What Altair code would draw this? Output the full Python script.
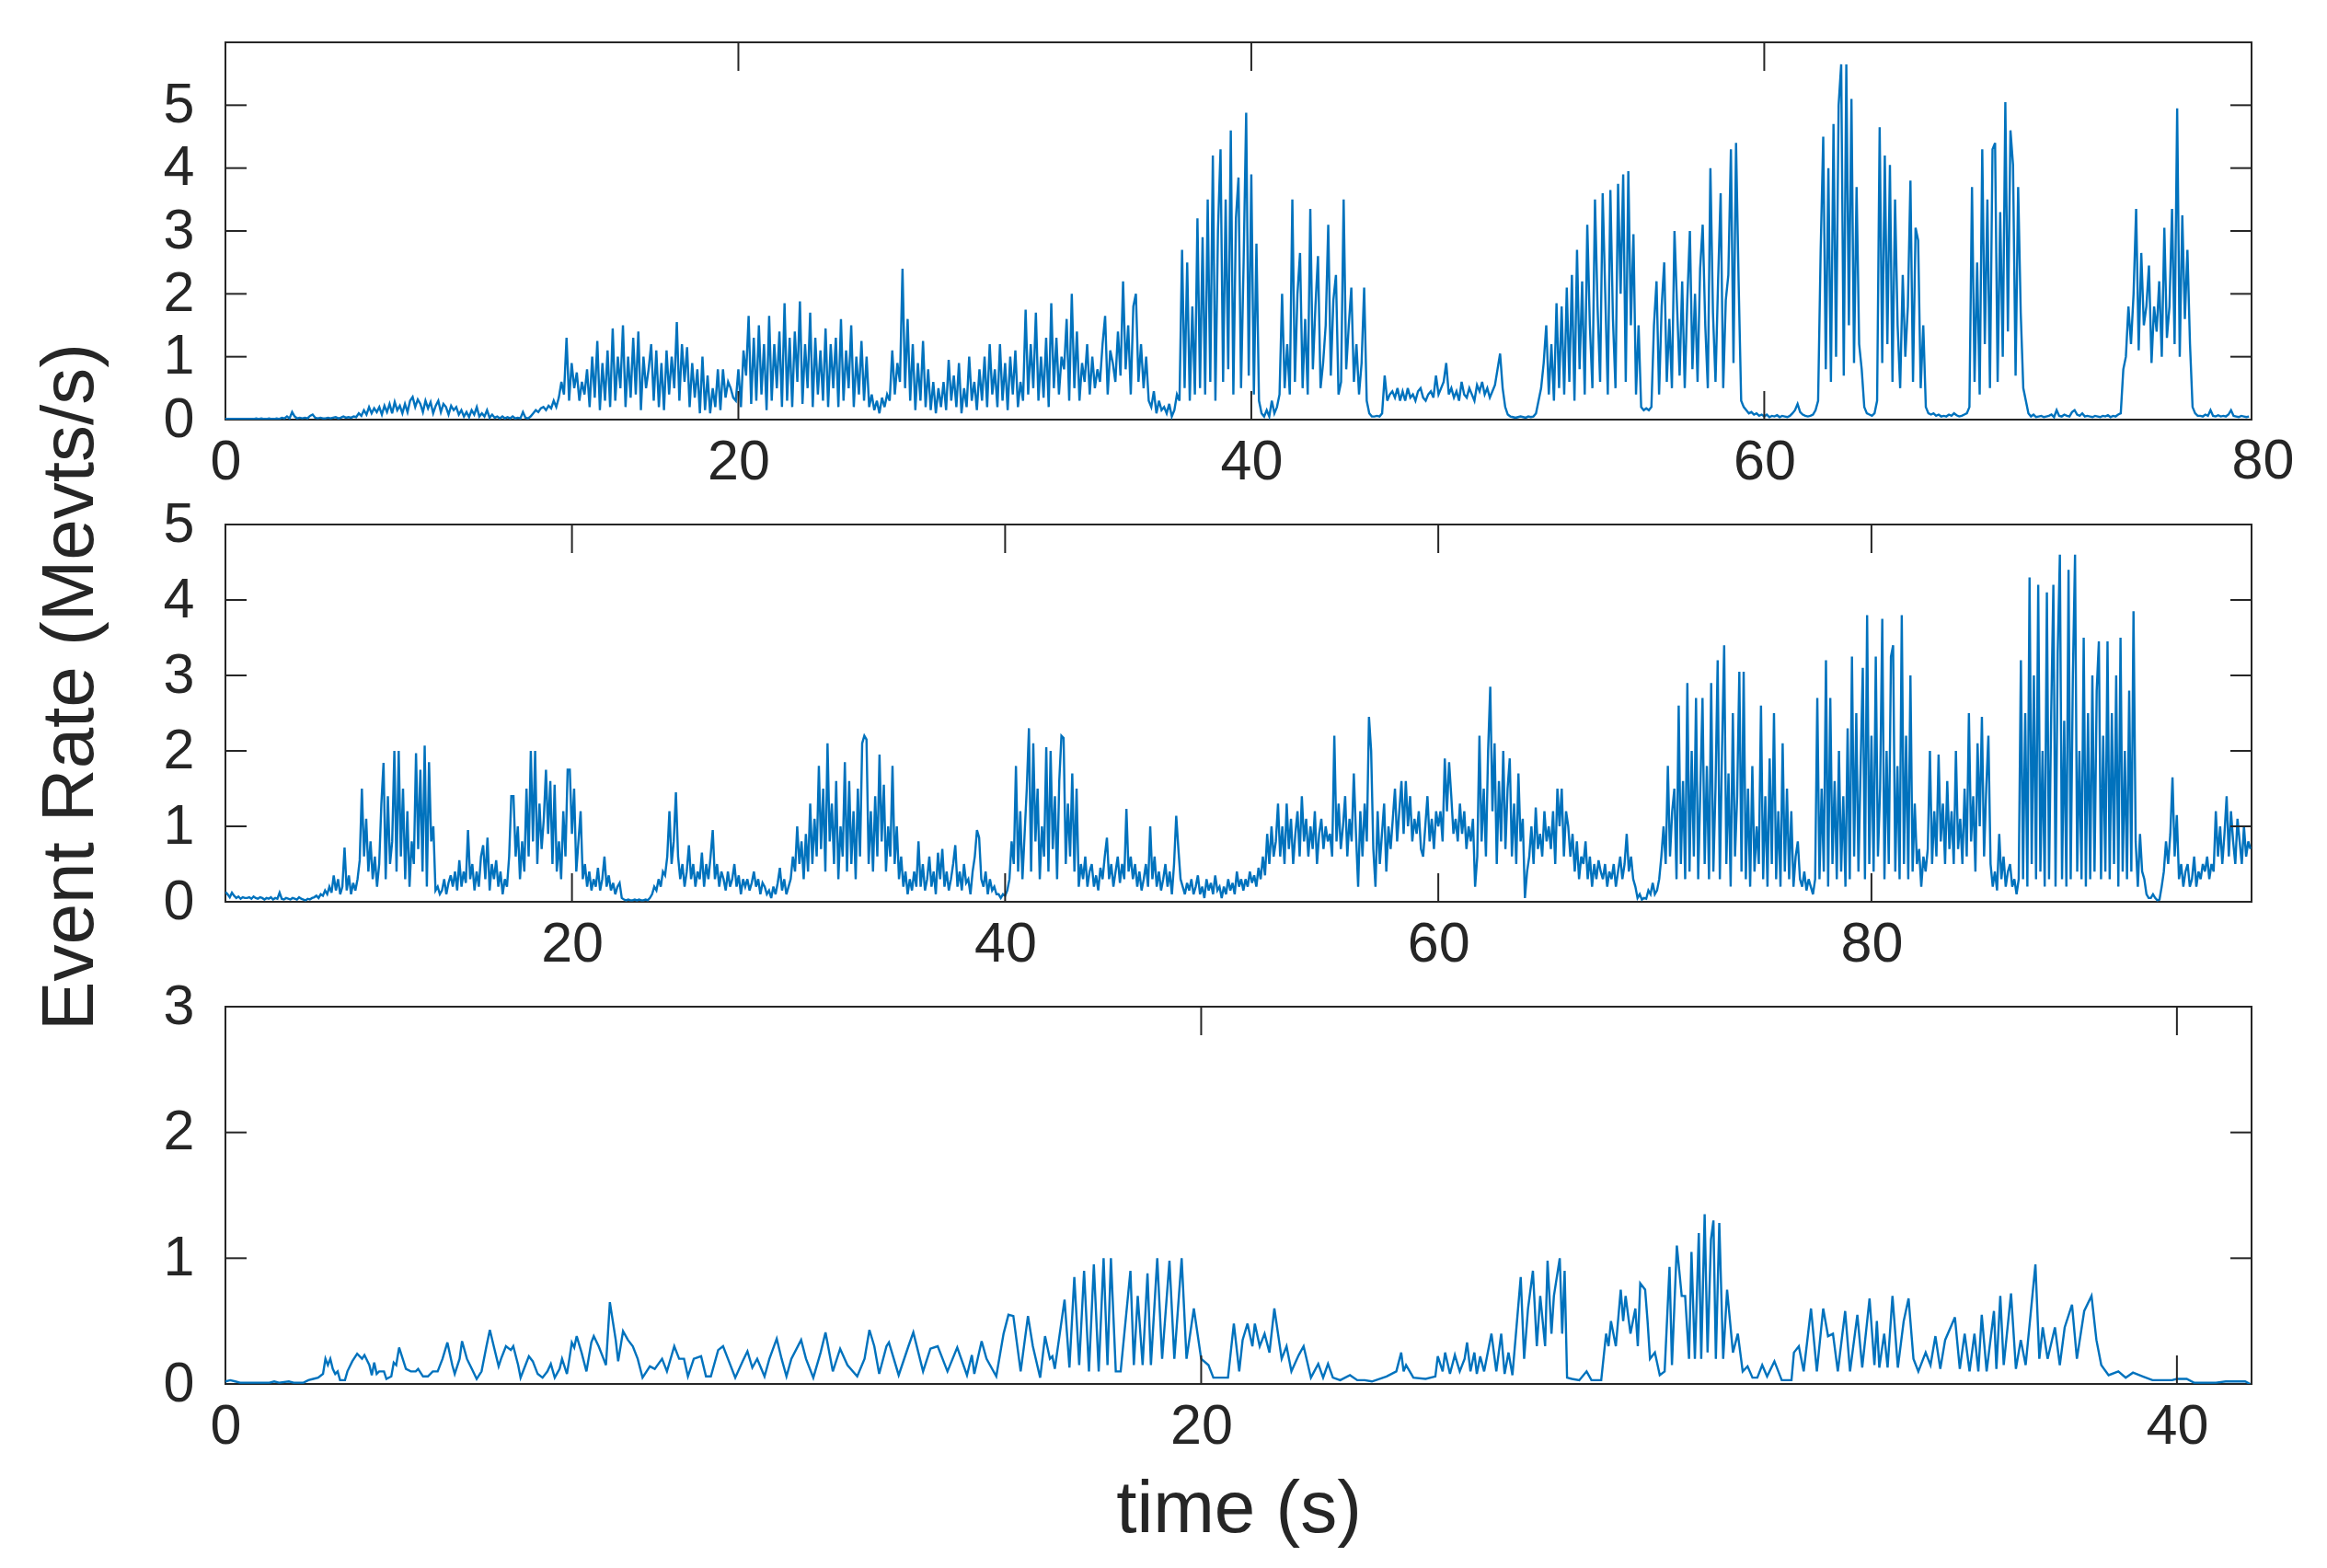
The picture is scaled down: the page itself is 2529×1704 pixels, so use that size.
import altair as alt
import pandas as pd

BLUE = "#0072BD"
AX = "#262626"
FONT = "Liberation Sans"

# ---------------- panel 1 : samples every 0.1 s from t = 0 ----------------
P1_START, P1_STEP = 0.0, 0.1
p1_vals = [
    .01,.01,.01,.01,.01,.01,.01,.01,.01,.01,
    .01,.01,.02,.01,.02,.01,.01,.02,.01,.01,
    .02,.01,.03,.02,.05,.02,.12,.05,.02,.03,
    .02,.03,.02,.06,.08,.03,.02,.03,.02,.02,
    .03,.02,.03,.04,.02,.03,.05,.03,.04,.03,
    .05,.04,.1,.06,.15,.08,.2,.1,.18,.12,
    .2,.08,.22,.12,.25,.1,.28,.15,.22,.1,
    .25,.12,.3,.36,.2,.32,.25,.12,.3,.18,
    .28,.1,.22,.3,.12,.25,.2,.08,.22,.15,
    .2,.08,.15,.05,.12,.04,.15,.08,.2,.05,
    .1,.05,.15,.03,.08,.03,.05,.02,.05,.02,
    .04,.02,.05,.02,.03,.02,.12,.03,.02,.05,
    .1,.15,.12,.18,.2,.15,.22,.18,.3,.2,
    .35,.6,.4,1.3,.3,.9,.5,.75,.3,.6,
    .4,.8,.2,1.0,.35,1.25,.15,.9,.3,1.1,
    .2,1.45,.3,1.0,.5,1.5,.2,1.0,.35,1.3,
    .4,1.4,.15,1.0,.5,.8,1.2,.3,1.1,.2,
    .9,.15,1.1,.4,1.0,.5,1.55,.3,1.2,.6,
    1.15,.2,.9,.35,.8,.1,1.0,.15,.7,.1,
    .5,.2,.8,.15,.8,.35,.6,.5,.35,.3,
    .8,.2,1.1,.7,1.65,.25,1.3,.3,1.5,.4,
    1.2,.15,1.65,.3,1.2,.5,1.4,.2,1.85,.3,
    1.3,.2,1.4,.6,1.88,.25,1.2,.5,1.7,.2,
    1.3,.4,1.1,.3,1.45,.2,1.2,.5,1.3,.2,
    1.6,.3,1.1,.5,1.5,.2,1.0,.4,1.25,.3,
    1.0,.2,.4,.15,.3,.1,.35,.2,.4,.3,
    1.1,.4,.9,.6,2.4,.5,1.6,.3,1.2,.15,
    .9,.3,1.25,.2,.8,.15,.6,.1,.5,.2,
    .6,.15,.95,.3,.7,.2,.9,.1,.5,.2,
    1.0,.3,.6,.15,.8,.3,1.0,.2,1.2,.4,
    .8,.2,1.2,.3,.9,.15,1.0,.4,1.1,.2,
    .6,.3,1.75,.4,1.2,.5,1.7,.3,1.0,.35,
    1.3,.2,1.85,.5,1.3,.4,1.0,.8,1.6,.3,
    2.0,.5,1.4,.3,.9,.6,1.2,.4,1.0,.5,
    .8,.6,1.2,1.65,.4,1.1,.9,.6,1.4,.7,
    2.2,.8,1.5,.4,1.8,2.0,.6,1.2,.5,1.0,
    .3,.2,.45,.1,.3,.15,.2,.1,.25,.05,
    .15,.4,.3,2.7,.5,2.5,.3,1.8,.4,3.2,
    .5,2.9,.4,3.5,.6,4.2,.3,3.0,4.3,.6,
    3.5,.8,4.6,.4,3.2,3.85,.5,2.5,4.88,.7,
    3.9,.4,2.8,.3,.1,.05,.15,.05,.3,.1,
    .2,.4,2.0,.5,1.2,.4,3.5,.6,2.0,2.65,
    .5,1.6,.4,3.35,.8,1.8,2.6,.5,.9,1.5,
    3.1,.7,1.9,2.3,.4,.6,3.5,.8,1.5,2.1,
    .6,1.2,.4,.9,2.1,.3,.1,.05,.05,.06,
    .05,.1,.7,.3,.4,.45,.35,.5,.3,.45,
    .3,.5,.35,.4,.3,.45,.5,.35,.3,.4,
    .45,.35,.7,.4,.5,.6,.9,.4,.5,.35,
    .45,.3,.6,.4,.35,.5,.4,.3,.55,.45,
    .6,.4,.5,.35,.45,.55,.8,1.05,.5,.2,
    .08,.05,.04,.03,.04,.05,.04,.03,.05,.04,
    .05,.1,.3,.5,.9,1.5,.4,1.2,.3,1.85,
    .5,1.8,.4,2.1,.6,2.3,.3,2.7,.8,2.2,
    .4,3.1,1.5,.5,3.5,1.8,.6,3.6,2.0,.4,
    3.65,1.6,.5,3.75,2.0,3.9,.6,3.95,1.5,2.95,
    .4,1.5,.2,.15,.18,.15,.2,1.5,2.2,.4,
    1.8,2.5,.6,1.6,.5,3.0,1.8,.7,2.2,.5,
    1.9,3.0,.8,2.0,.6,2.4,3.1,1.5,.5,4.0,
    1.7,.6,2.2,3.6,.5,1.9,2.3,4.3,.9,4.4,
    2.2,.3,.2,.15,.1,.12,.08,.1,.06,.08,
    .05,.08,.04,.06,.05,.07,.04,.06,.05,.04,
    .06,.1,.15,.25,.12,.08,.06,.05,.06,.08,
    .15,.3,2.7,4.5,.8,4.0,.6,4.7,1.0,5.0,
    5.65,.7,5.65,1.5,5.1,.9,3.7,1.2,.8,.2,
    .1,.08,.06,.1,.3,4.65,.9,4.2,1.2,4.05,
    .6,3.5,1.5,.5,2.3,1.0,1.8,3.8,.6,3.05,
    2.85,.5,1.5,.2,.1,.08,.1,.06,.08,.05,
    .06,.05,.08,.06,.1,.07,.05,.06,.08,.1,
    .2,3.7,.6,2.5,.4,4.3,1.2,3.5,.5,4.3,
    4.4,.6,3.3,1.0,5.05,1.4,4.6,4.05,.7,3.7,
    1.7,.5,.3,.1,.05,.08,.04,.05,.06,.04,
    .05,.06,.08,.04,.15,.06,.05,.08,.06,.05,
    .12,.15,.08,.06,.1,.05,.06,.05,.04,.06,
    .05,.04,.06,.05,.07,.04,.06,.05,.08,.1,
    .8,1.0,1.8,1.2,2.0,3.35,1.1,2.65,1.5,1.8,
    2.45,.9,1.8,1.4,2.2,1.0,3.05,1.3,1.8,3.35,
    1.2,4.95,1.0,3.25,1.6,2.7,1.2,.2,.1,.06,
    .06,.05,.08,.06,.15,.06,.05,.07,.05,.06,
    .05,.08,.15,.06,.05,.04,.06,.05,.04,.05,
]

# ---------------- panel 2 : samples every 0.1 s from t = 4 ----------------
P2_START, P2_STEP = 4.0, 0.1
p2_vals = [
    .13,.1,.06,.12,.08,.05,.07,.04,.06,.05,
    .05,.06,.04,.07,.05,.04,.06,.05,.03,.05,
    .04,.06,.03,.05,.04,.12,.04,.03,.05,.04,
    .03,.05,.04,.03,.06,.04,.03,.02,.04,.03,
    .05,.06,.08,.05,.1,.08,.15,.1,.2,.12,
    .35,.15,.3,.1,.2,.72,.15,.35,.1,.25,
    .15,.3,.55,1.5,.6,1.1,.4,.8,.3,.6,
    .2,.5,1.3,1.84,.3,1.4,.5,.8,2.0,.4,
    2.0,.6,1.5,.3,1.2,.2,.8,.5,1.97,.7,
    1.75,.4,2.07,.2,1.85,.8,1.0,.15,.2,.1,
    .15,.3,.1,.25,.35,.2,.4,.15,.55,.2,
    .4,.25,.95,.3,.5,.15,.4,.2,.6,.75,
    .3,.85,.15,.5,.3,.55,.2,.4,.1,.3,
    .2,.6,1.4,1.4,.6,1.0,.3,.8,.4,1.5,
    .6,2.0,.8,2.0,.5,1.3,.7,1.1,1.75,.9,
    1.6,.5,1.55,.4,.8,.3,1.2,.6,1.75,1.75,
    .9,1.5,.4,.8,1.2,.3,.5,.2,.4,.15,
    .3,.2,.45,.15,.3,.6,.2,.35,.15,.25,
    .1,.2,.25,.05,.03,.02,.03,.02,.02,.03,
    .02,.03,.02,.02,.03,.02,.05,.1,.2,.15,
    .3,.2,.4,.35,.6,1.2,.5,.8,1.45,.6,
    .3,.5,.2,.4,.75,.3,.5,.2,.4,.3,
    .65,.2,.5,.3,.6,.95,.3,.5,.2,.4,
    .3,.15,.4,.2,.3,.5,.2,.35,.1,.3,
    .2,.3,.15,.25,.4,.2,.3,.1,.25,.2,
    .1,.15,.05,.2,.1,.25,.45,.15,.3,.1,
    .2,.3,.6,.4,1.0,.5,.8,.3,.9,.4,
    1.3,.5,1.1,.6,1.8,.7,1.5,.4,2.1,.8,
    1.3,.5,1.6,.3,1.0,.6,1.85,.4,1.6,.5,
    1.2,.3,1.5,.6,2.1,2.2,2.15,.5,1.2,.4,
    1.4,.6,1.95,.8,1.55,.4,1.0,.6,1.8,.5,
    1.0,.3,.6,.2,.4,.1,.3,.15,.4,.2,
    .8,.2,.5,.15,.3,.6,.2,.4,.1,.65,
    .3,.7,.2,.4,.15,.3,.5,.75,.2,.4,
    .15,.5,.25,.3,.1,.4,.6,.95,.85,.3,
    .2,.4,.1,.3,.15,.2,.1,.1,.05,.1,
    .08,.15,.3,.8,.5,1.8,.4,1.2,.3,.9,
    1.5,2.3,.4,2.1,.8,1.5,.3,1.0,.6,2.05,
    .4,2.0,.7,1.4,.3,1.6,2.2,2.17,.5,1.3,
    .6,1.7,.4,1.5,.2,.5,.3,.6,.2,.4,
    .5,.2,.35,.15,.45,.3,.6,.85,.3,.5,
    .2,.4,.6,.25,.5,.3,1.23,.4,.6,.3,
    .5,.2,.4,.15,.3,.5,.2,1.0,.3,.6,
    .2,.4,.15,.3,.5,.2,.4,.1,.5,1.14,
    .7,.3,.2,.1,.25,.15,.3,.1,.2,.35,
    .1,.2,.05,.3,.15,.25,.1,.35,.15,.2,
    .05,.2,.1,.3,.15,.25,.1,.4,.2,.3,
    .15,.3,.2,.4,.25,.35,.2,.45,.3,.6,
    .35,.9,.5,1.0,.6,.8,1.3,.6,1.0,.5,
    1.3,.7,1.1,.5,.9,1.2,.6,1.4,.8,1.1,
    .6,1.0,.7,1.2,.5,.9,1.1,.7,1.0,.8,
    .9,.6,2.2,.8,1.3,.7,1.0,1.4,.6,1.1,
    .8,1.7,.9,.2,1.2,.6,1.3,.8,2.45,2.0,
    .7,.2,1.2,.5,.9,1.3,.4,1.0,.7,1.1,
    1.5,.8,1.2,1.6,.9,1.6,1.0,1.4,.8,1.1,
    .9,1.2,.7,.6,1.0,1.4,.8,1.1,.7,1.2,
    1.0,1.2,.8,1.9,1.2,1.85,1.4,.9,1.1,.8,
    1.3,.9,1.2,.7,1.0,.8,1.1,.2,.6,2.2,
    .8,1.5,.6,2.0,2.85,1.2,2.1,.5,1.6,.8,
    2.0,.7,1.5,1.9,.6,1.3,.5,1.7,.8,1.1,
    .05,.4,.6,1.0,.5,1.25,.7,.9,.6,1.2,
    .8,1.0,.7,1.2,.5,1.5,1.0,1.5,.6,1.2,
    1.0,.6,.9,.4,.8,.3,.6,.5,.8,.3,
    .6,.2,.5,.3,.55,.4,.3,.5,.2,.4,
    .3,.5,.2,.4,.6,.3,.5,.9,.4,.6,
    .3,.2,.05,.1,.03,.05,.04,.15,.1,.25,
    .1,.15,.3,.6,1.0,.5,1.8,.6,1.2,1.5,
    .3,2.6,.5,1.6,.3,2.9,.4,2.0,.6,2.7,
    .3,1.5,2.7,.5,1.8,.3,2.9,.4,1.5,3.2,
    .3,2.0,3.4,.5,1.7,.2,2.5,.6,1.4,3.05,
    .4,3.05,.3,1.5,.2,1.8,.4,1.0,.5,2.6,
    .3,1.4,.2,1.9,.5,2.5,.3,1.2,.2,2.1,
    .4,1.5,.3,1.2,.2,.6,.8,.3,.2,.4,
    .15,.3,.2,.1,.3,2.7,.3,1.5,.4,3.2,
    .2,2.7,.5,1.6,.3,2.0,.4,1.4,.2,2.3,
    .3,3.25,.6,2.5,.4,1.8,3.1,.3,3.8,.5,
    2.2,.4,3.25,.6,1.5,3.75,.3,2.0,.5,3.25,
    3.4,.4,1.8,.3,3.8,.5,2.2,.3,3.0,.4,
    1.3,.5,.7,.2,.6,.4,.7,2.0,.5,1.2,
    .6,1.95,.8,1.3,.5,1.6,.7,1.2,.5,2.0,
    .7,1.1,.5,1.5,.6,2.5,.8,1.4,.4,2.1,
    1.0,2.45,.6,1.5,2.2,.5,.2,.4,.15,.9,
    .3,.6,.2,.4,.5,.2,.3,.1,.3,3.2,
    .3,2.5,.2,4.3,.5,3.0,.3,4.2,.4,2.0,
    .2,4.1,.3,2.5,4.2,.2,3.3,4.6,.3,2.4,
    .2,4.4,.3,3.0,4.6,.4,2.0,.3,3.5,.2,
    2.5,.3,3.0,.4,2.8,3.45,.3,2.2,.4,3.45,
    .3,2.5,.5,3.0,.2,3.5,.4,2.0,.3,2.8,
    .4,3.85,.8,.2,.9,.4,.3,.1,.05,.05,
    .1,.05,.02,.03,.2,.4,.8,.5,.9,1.65,
    .6,1.15,.3,.5,.2,.4,.5,.2,.3,.6,
    .2,.4,.3,.5,.4,.6,.3,.5,.4,1.2,
    .6,1.0,.5,.9,1.4,.6,1.2,.8,.5,1.1,
    .8,.5,1.0,.6,.8,.7,
]

# ---------------- panel 3 : (time, rate) points ----------------
p3_points = [
    (0.0,.02),(0.1,.03),(0.2,.02),(0.3,.01),(0.5,.01),(0.9,.01),(1.0,.02),(1.1,.01),(1.3,.02),(1.4,.01),
    (1.6,.01),(1.7,.03),(1.8,.04),(1.9,.05),(2.0,.08),(2.05,.2),(2.1,.15),(2.15,.2),(2.2,.12),(2.25,.08),
    (2.3,.1),(2.35,.03),(2.45,.03),(2.5,.1),(2.6,.18),(2.7,.24),(2.8,.2),(2.85,.23),(2.95,.15),(3.0,.07),
    (3.05,.17),(3.1,.08),(3.15,.1),(3.25,.1),(3.3,.04),(3.4,.06),(3.45,.17),(3.5,.15),(3.56,.29),(3.7,.12),
    (3.8,.1),(3.9,.1),(3.95,.12),(4.05,.06),(4.15,.06),(4.25,.1),(4.35,.1),(4.45,.2),(4.55,.33),(4.65,.15),
    (4.7,.08),(4.8,.2),(4.85,.34),(4.95,.2),(5.05,.12),(5.15,.04),(5.25,.1),(5.35,.3),(5.42,.43),(5.5,.3),
    (5.6,.14),(5.65,.2),(5.75,.3),(5.85,.27),(5.9,.3),(6.0,.15),(6.05,.05),(6.15,.15),(6.22,.22),(6.3,.18),
    (6.4,.08),(6.5,.05),(6.6,.1),(6.67,.16),(6.75,.05),(6.85,.12),(6.9,.2),(7.0,.08),(7.05,.2),(7.1,.33),
    (7.15,.29),(7.2,.38),(7.3,.25),(7.4,.1),(7.5,.33),(7.55,.38),(7.65,.3),(7.75,.2),(7.8,.15),(7.88,.65),
    (7.92,.55),(8.0,.35),(8.05,.18),(8.15,.42),(8.25,.35),(8.35,.3),(8.45,.2),(8.55,.05),(8.7,.14),(8.8,.12),
    (8.95,.2),(9.05,.1),(9.2,.3),(9.3,.2),(9.4,.2),(9.48,.06),(9.6,.2),(9.75,.22),(9.85,.06),(9.95,.06),
    (10.1,.27),(10.2,.3),(10.3,.2),(10.45,.05),(10.6,.18),(10.7,.26),(10.8,.13),(10.9,.2),(11.05,.06),(11.15,.2),
    (11.3,.36),(11.4,.2),(11.5,.06),(11.6,.2),(11.8,.35),(11.9,.2),(12.05,.05),(12.2,.25),(12.3,.41),(12.45,.1),
    (12.6,.28),(12.75,.15),(12.95,.06),(13.1,.2),(13.2,.43),(13.3,.3),(13.4,.08),(13.55,.3),(13.6,.33),(13.8,.07),
    (14.0,.3),(14.1,.41),(14.3,.1),(14.45,.28),(14.6,.3),(14.8,.1),(15.0,.29),(15.2,.07),(15.3,.23),(15.35,.08),
    (15.5,.34),(15.6,.2),(15.8,.06),(15.95,.4),(16.05,.55),(16.15,.54),(16.3,.1),(16.45,.54),(16.55,.3),(16.7,.05),
    (16.8,.38),(16.9,.2),(16.95,.22),(17.0,.12),(17.2,.67),(17.3,.13),(17.4,.85),(17.5,.15),(17.6,.9),(17.7,.1),
    (17.8,.95),(17.9,.1),(18.0,1.0),(18.08,.15),(18.15,1.0),(18.25,.1),(18.35,.1),(18.55,.9),(18.62,.15),(18.7,.7),
    (18.8,.15),(18.9,.88),(18.97,.15),(19.1,1.0),(19.2,.2),(19.35,.98),(19.45,.2),(19.6,1.0),(19.7,.2),(19.85,.6),
    (20.0,.2),(20.15,.15),(20.25,.05),(20.4,.05),(20.55,.05),(20.67,.48),(20.78,.1),(20.85,.35),(20.95,.48),(21.05,.3),
    (21.1,.48),(21.2,.3),(21.3,.4),(21.4,.25),(21.5,.6),(21.65,.2),(21.75,.3),(21.85,.1),(22.0,.23),(22.1,.3),
    (22.25,.05),(22.4,.16),(22.5,.05),(22.6,.16),(22.7,.05),(22.85,.03),(23.05,.07),(23.2,.03),(23.35,.03),(23.5,.02),
    (23.8,.06),(24.0,.1),(24.1,.25),(24.15,.1),(24.2,.15),(24.35,.05),(24.6,.04),(24.8,.06),(24.85,.22),(24.95,.1),
    (25.0,.25),(25.1,.08),(25.2,.23),(25.3,.1),(25.4,.2),(25.45,.33),(25.52,.1),(25.6,.25),(25.65,.08),(25.72,.22),
    (25.8,.1),(25.95,.4),(26.05,.1),(26.15,.4),(26.22,.08),(26.3,.25),(26.38,.07),(26.55,.85),(26.62,.2),(26.7,.6),
    (26.8,.9),(26.88,.3),(26.95,.7),(27.05,.3),(27.1,.98),(27.18,.4),(27.23,.7),(27.35,1.0),(27.4,.4),(27.45,.9),
    (27.5,.05),(27.6,.04),(27.75,.03),(27.9,.1),(28.0,.03),(28.2,.03),(28.3,.4),(28.35,.3),(28.4,.5),(28.5,.3),
    (28.6,.75),(28.65,.5),(28.7,.7),(28.8,.4),(28.9,.6),(28.95,.3),(29.0,.8),(29.1,.75),(29.15,.5),(29.2,.2),
    (29.3,.25),(29.4,.07),(29.5,.1),(29.6,.93),(29.65,.15),(29.75,1.1),(29.85,.7),(29.92,.7),(30.0,.2),(30.05,1.05),
    (30.12,.2),(30.2,1.2),(30.25,.2),(30.32,1.35),(30.38,.25),(30.45,1.15),(30.5,1.3),(30.55,.2),(30.62,1.28),(30.7,.2),
    (30.78,.75),(30.9,.25),(31.0,.4),(31.1,.1),(31.2,.14),(31.3,.05),(31.4,.05),(31.5,.15),(31.6,.06),(31.75,.18),
    (31.9,.03),(32.1,.03),(32.15,.25),(32.25,.3),(32.35,.1),(32.5,.6),(32.62,.1),(32.75,.6),(32.85,.38),(32.95,.4),
    (33.05,.1),(33.2,.58),(33.3,.1),(33.45,.55),(33.55,.13),(33.7,.68),(33.8,.15),(33.85,.5),(33.9,.13),(34.0,.4),
    (34.07,.13),(34.17,.7),(34.28,.13),(34.4,.5),(34.5,.68),(34.6,.2),(34.7,.1),(34.85,.25),(34.95,.15),(35.05,.38),
    (35.15,.12),(35.25,.35),(35.45,.53),(35.55,.12),(35.65,.4),(35.75,.1),(35.85,.4),(35.93,.1),(36.0,.55),(36.1,.1),
    (36.25,.58),(36.3,.12),(36.38,.7),(36.45,.15),(36.6,.72),(36.7,.12),(36.8,.35),(36.9,.15),(37.0,.55),(37.1,.95),
    (37.18,.2),(37.25,.45),(37.35,.2),(37.5,.45),(37.6,.15),(37.7,.45),(37.85,.63),(37.95,.2),(38.1,.58),(38.25,.7),
    (38.35,.35),(38.45,.15),(38.6,.07),(38.8,.1),(38.95,.05),(39.1,.09),(39.3,.06),(39.5,.03),(39.9,.03),(40.0,.04),
    (40.2,.04),(40.35,.01),(40.8,.01),(41.0,.02),(41.4,.02),(41.5,.0),
]

# axis settings per panel
x1_domain, y1_domain = [0, 79], [0, 6]
x2_domain, y2_domain = [4, 97.55], [0, 5]
x3_domain, y3_domain = [0, 41.53], [0, 3]
x1_labels, x2_labels, x3_labels = [0, 20, 40, 60], [20, 40, 60, 80], [0, 20, 40]
y1_labels, y2_labels, y3_labels = [0, 1, 2, 3, 4, 5], [0, 1, 2, 3, 4, 5], [0, 1, 2, 3]
x1_ticks, x2_ticks, x3_ticks = [20, 40, 60], [20, 40, 60, 80], [20, 40]
y1_ticks, y2_ticks, y3_ticks = [1, 2, 3, 4, 5], [1, 2, 3, 4], [1, 2]
p1_extra_label = {"t": [79.45], "lab": ["80"]}

W, H = 2202, 410
XT, YT = 31, 23
LBL = 61
TTL = 80
LW = 2.4


def uniform_df(start, step, vals):
    return pd.DataFrame({"t": [round(start + i * step, 3) for i in range(len(vals))], "v": vals})


def x_axis(values, title="", title_props=None):
    kw = dict(values=values, title=title, format="d", labelFlush=False, ticks=False, tickSize=0,
              domain=False, grid=False, labelBaseline="alphabetic", labelPadding=64, labelFont=FONT,
              labelFontSize=LBL, labelColor=AX, labelOverlap=False)
    if title_props:
        kw.update(title_props)
    return alt.Axis(**kw)


def y_axis(values, title="", title_props=None):
    kw = dict(values=values, title=title, format="d", ticks=False, tickSize=0, domain=False, grid=False,
              labelAlign="right", labelBaseline="middle", labelPadding=34, labelFont=FONT,
              labelFontSize=LBL, labelColor=AX, labelOverlap=False)
    if title_props:
        kw.update(title_props)
    return alt.Axis(**kw)


def panel(df, xdom, ydom, xticks, yticks, xaxis, yaxis, extra=None):
    xs = alt.Scale(domain=xdom, nice=False, zero=False)
    ys = alt.Scale(domain=ydom, nice=False, zero=False)
    line = alt.Chart(df).mark_line(color=BLUE, strokeWidth=LW, clip=True).encode(
        x=alt.X("t:Q", scale=xs, axis=xaxis),
        y=alt.Y("v:Q", scale=ys, axis=yaxis),
    )
    xt = alt.Chart(pd.DataFrame({"t": xticks})).mark_rule(color=AX, strokeWidth=2)
    top = xt.encode(x=alt.X("t:Q", scale=xs), y=alt.value(0), y2=alt.value(XT))
    bot = xt.encode(x=alt.X("t:Q", scale=xs), y=alt.value(H), y2=alt.value(H - XT))
    yt = alt.Chart(pd.DataFrame({"v": yticks})).mark_rule(color=AX, strokeWidth=2)
    left = yt.encode(y=alt.Y("v:Q", scale=ys), x=alt.value(0), x2=alt.value(YT))
    right = yt.encode(y=alt.Y("v:Q", scale=ys), x=alt.value(W), x2=alt.value(W - YT))
    layers = [line, top, bot, left, right]
    if extra is not None:
        txt = alt.Chart(pd.DataFrame(extra)).mark_text(
            font=FONT, fontSize=LBL, color=AX, align="center", baseline="alphabetic"
        ).encode(x=alt.X("t:Q", scale=xs), y=alt.value(H + 64), text="lab:N")
        layers.append(txt)
    return alt.layer(*layers).properties(width=W, height=H)


df1 = uniform_df(P1_START, P1_STEP, p1_vals)
df2 = uniform_df(P2_START, P2_STEP, p2_vals)
df3 = pd.DataFrame({"t": [p[0] for p in p3_points], "v": [p[1] for p in p3_points]})

c1 = panel(df1, x1_domain, y1_domain, x1_ticks, y1_ticks,
           x_axis(x1_labels), y_axis(y1_labels), extra=p1_extra_label)
c2 = panel(df2, x2_domain, y2_domain, x2_ticks, y2_ticks,
           x_axis(x2_labels),
           y_axis(y2_labels, "Event Rate (Mevts/s)",
                  dict(titleFont=FONT, titleFontSize=TTL, titleFontWeight="normal", titleColor=AX,
                       titleAngle=270, titleX=-145, titleY=176, titleBaseline="alphabetic",
                       titleAlign="center")))
c3 = panel(df3, x3_domain, y3_domain, x3_ticks, y3_ticks,
           x_axis(x3_labels, "time (s)",
                  dict(titleFont=FONT, titleFontSize=TTL, titleFontWeight="normal", titleColor=AX,
                       titleY=160, titleBaseline="alphabetic")),
           y_axis(y3_labels))

chart = alt.vconcat(c1, c2, c3, spacing=114, bounds="flush").properties(
    padding={"left": 26, "top": 36, "right": 10, "bottom": 5}
).configure(background="white").configure_view(stroke=AX, strokeWidth=2)

chart.save("out.html", embed_options={"renderer": "svg", "actions": False})
